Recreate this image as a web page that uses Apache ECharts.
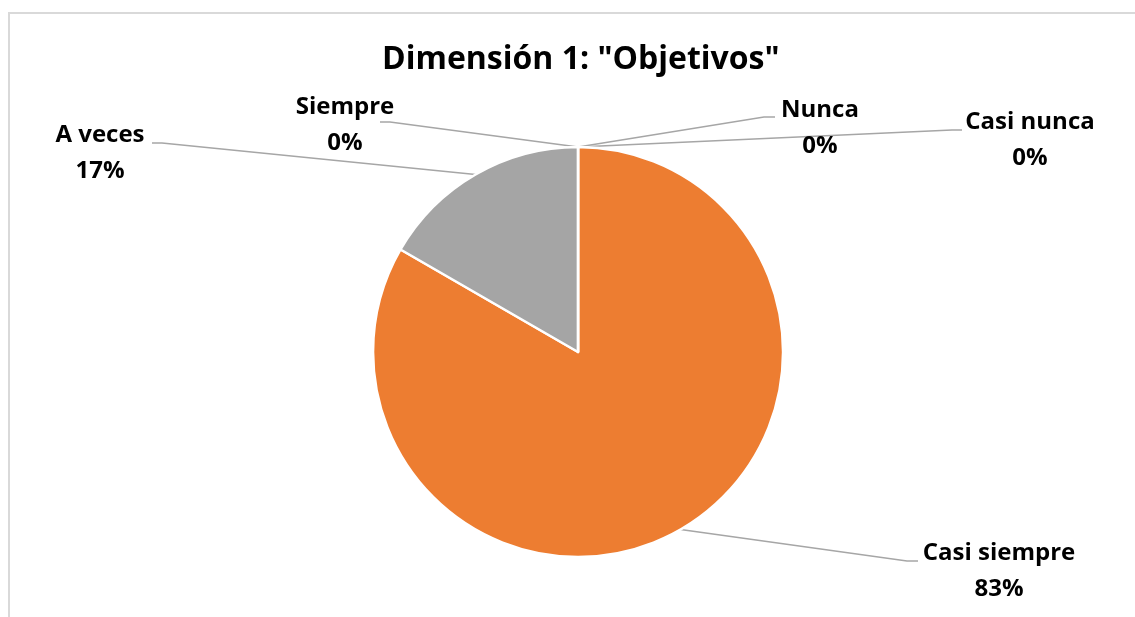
<!DOCTYPE html>
<html>
<head>
<meta charset="utf-8">
<script src="https://cdn.jsdelivr.net/npm/echarts@6/dist/echarts.min.js"></script>
<style>
  html, body { margin: 0; padding: 0; background: #fff; }
  #frame { position: absolute; left: 8px; top: 12px; right: -5px; bottom: -5px; border-top: 2px solid #d9d9d9; border-left: 2px solid #d9d9d9; }
  #chart { position: absolute; left: 0; top: 0; width: 1135px; height: 617px; }
</style>
</head>
<body>
<div id="frame"></div>
<div id="chart"></div>
<script>
const titleText = 'Dimensión 1: "Objetivos"';
const categories = ['Nunca', 'Casi nunca', 'Casi siempre', 'A veces', 'Siempre'];
const values = [0, 0, 5, 1, 0];
const colors = ['#4472C4', '#5B9BD5', '#ED7D31', '#A5A5A5', '#FFC000'];

// label anchor (center of 2-line label) and leader-line end, per category
const labelPos = {
  'Nunca':        { x: 820, y: 128, end: [775, 117], knee: [764, 117] },
  'Casi nunca':   { x: 1030, y: 140, end: [962, 130], knee: [952, 130] },
  'Casi siempre': { x: 999, y: 571, end: [918, 561], knee: [907, 561] },
  'A veces':      { x: 100, y: 153, end: [152, 143], knee: [162, 143] },
  'Siempre':      { x: 345, y: 125, end: [380, 122], knee: [390, 122] }
};

const chart = echarts.init(document.getElementById('chart'));
const font = '"Open Sans", Roboto, sans-serif';
chart.setOption({
  animation: false,
  title: {
    text: titleText,
    left: 377,
    top: 39,
    textStyle: { fontFamily: font, fontSize: 32, fontWeight: 'bold', color: '#000' }
  },
  series: [{
    type: 'pie',
    center: ['50.93%', '57.05%'],
    radius: 205,
    startAngle: 90,
    clockwise: true,
    avoidLabelOverlap: false,
    percentPrecision: 0,
    itemStyle: { borderColor: '#fff', borderWidth: 2.5 },
    label: {
      show: true,
      position: 'outside',
      formatter: '{b}\n{d}%',
      fontFamily: font,
      fontSize: 24,
      fontWeight: 'bold',
      color: '#000',
      lineHeight: 36,
      align: 'center'
    },
    labelLine: {
      show: true,
      length: 20,
      length2: 20,
      lineStyle: { color: '#A6A6A6', width: 1.5 }
    },
    labelLayout: function (params) {
      const name = categories[params.dataIndex];
      const p = labelPos[name];
      const start = params.labelLinePoints ? params.labelLinePoints[0] : null;
      const res = { x: p.x, y: p.y, align: 'center', verticalAlign: 'middle' };
      if (start) {
        res.labelLinePoints = [start, p.knee, p.end];
      }
      return res;
    },
    data: categories.map((c, i) => ({ name: c, value: values[i], itemStyle: { color: colors[i] } }))
  }]
});
</script>
</body>
</html>
